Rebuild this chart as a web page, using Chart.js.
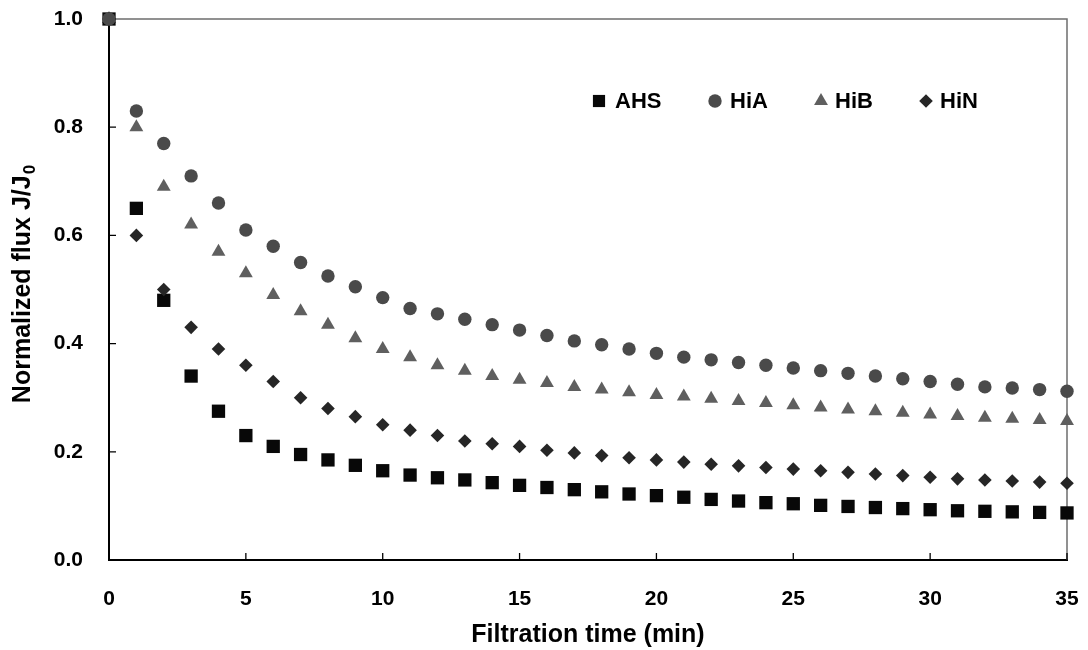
<!DOCTYPE html>
<html>
<head>
<meta charset="utf-8">
<script src="https://cdn.jsdelivr.net/npm/chart.js@4.4.0/dist/chart.umd.min.js"></script>
<style>
  html, body { margin: 0; padding: 0; background: #fff; }
  #wrap { width: 1088px; height: 650px; }
</style>
</head>
<body>
<div id="wrap"><canvas id="fluxChart" width="1088" height="650"></canvas></div>
<script>
        // Filtration time (min) and normalized flux values
        const minutes = [0, 1, 2, 3, 4, 5, 6, 7, 8, 9, 10, 11, 12, 13, 14, 15, 16, 17,
                         18, 19, 20, 21, 22, 23, 24, 25, 26, 27, 28, 29, 30, 31, 32, 33, 34, 35];
        const ahs = [1.0, 0.65, 0.48, 0.34, 0.275, 0.23, 0.21, 0.195, 0.185, 0.175, 0.165, 0.157,
                     0.152, 0.148, 0.143, 0.138, 0.134, 0.13, 0.126, 0.122, 0.119, 0.116, 0.112, 0.109,
                     0.106, 0.104, 0.101, 0.099, 0.097, 0.095, 0.093, 0.091, 0.09, 0.089, 0.088, 0.087];
        const hiA = [1.0, 0.83, 0.77, 0.71, 0.66, 0.61, 0.58, 0.55, 0.525, 0.505, 0.485, 0.465,
                     0.455, 0.445, 0.435, 0.425, 0.415, 0.405, 0.398, 0.39, 0.382, 0.375, 0.37, 0.365,
                     0.36, 0.355, 0.35, 0.345, 0.34, 0.335, 0.33, 0.325, 0.32, 0.318, 0.315, 0.312];
        const hiB = [1.0, 0.80, 0.69, 0.62, 0.57, 0.53, 0.49, 0.46, 0.435, 0.41, 0.39, 0.375,
                     0.36, 0.35, 0.34, 0.333, 0.327, 0.32, 0.315, 0.31, 0.305, 0.302, 0.298, 0.294,
                     0.29, 0.286, 0.282, 0.278, 0.275, 0.272, 0.269, 0.266, 0.263, 0.261, 0.259, 0.257];
        const hiN = [1.0, 0.60, 0.50, 0.43, 0.39, 0.36, 0.33, 0.30, 0.28, 0.265, 0.25, 0.24,
                     0.23, 0.22, 0.215, 0.21, 0.203, 0.198, 0.193, 0.189, 0.185, 0.181, 0.177, 0.174,
                     0.171, 0.168, 0.165, 0.162, 0.159, 0.156, 0.153, 0.15, 0.148, 0.146, 0.144, 0.142];
        const xTicks = [0, 5, 10, 15, 20, 25, 30, 35];
        const yTicks = [0.0, 0.2, 0.4, 0.6, 0.8, 1.0];

        const series = [
            { label: 'AHS', values: ahs, color: '#080808', style: 'rect', radius: 9.4, order: 2 },
            { label: 'HiA', values: hiA, color: '#4a4a4a', style: 'circle', radius: 6.7, order: 0 },
            { label: 'HiB', values: hiB, color: '#5f5f5f', style: 'triangle', radius: 8, order: 3 },
            { label: 'HiN', values: hiN, color: '#262626', style: 'rectRot', radius: 6.8, order: 1 }
        ];

        const toPoints = vals => minutes.map((m, i) => ({ x: m, y: vals[i] }));

        // draws a marker shape (used for the legend)
        function marker(ctx, style, x, y, r, color) {
            ctx.save();
            ctx.fillStyle = color;
            ctx.beginPath();
            if (style === 'rect') {
                const s = Math.SQRT1_2 * r;
                ctx.rect(x - s, y - s, 2 * s, 2 * s);
            } else if (style === 'circle') {
                ctx.arc(x, y, r, 0, Math.PI * 2);
            } else if (style === 'triangle') {
                ctx.moveTo(x, y - r);
                ctx.lineTo(x + r * Math.sin(Math.PI * 2 / 3), y - r * Math.cos(Math.PI * 2 / 3));
                ctx.lineTo(x + r * Math.sin(Math.PI * 4 / 3), y - r * Math.cos(Math.PI * 4 / 3));
            } else {
                ctx.moveTo(x, y - r); ctx.lineTo(x + r, y); ctx.lineTo(x, y + r); ctx.lineTo(x - r, y);
            }
            ctx.closePath();
            ctx.fill();
            ctx.restore();
        }

        const legendSpots = [
            { mx: 599, tx: 615 },
            { mx: 715, tx: 730 },
            { mx: 821, tx: 835 },
            { mx: 926, tx: 940 }
        ];

        const framePlugin = {
            id: 'frame',
            beforeDatasetsDraw(chart) {
                const { ctx, chartArea: a, scales: { x, y } } = chart;
                ctx.save();
                // top and right frame lines
                ctx.strokeStyle = '#6e6e6e';
                ctx.lineWidth = 1.5;
                ctx.beginPath();
                ctx.moveTo(a.left, a.top); ctx.lineTo(a.right, a.top); ctx.lineTo(a.right, a.bottom);
                ctx.stroke();
                // inside tick marks
                ctx.strokeStyle = '#000';
                ctx.lineWidth = 1.3;
                ctx.beginPath();
                xTicks.forEach(v => {
                    const px = x.getPixelForValue(v);
                    ctx.moveTo(px, a.bottom); ctx.lineTo(px, a.bottom - 7);
                });
                yTicks.forEach(v => {
                    const py = y.getPixelForValue(v);
                    ctx.moveTo(a.left, py); ctx.lineTo(a.left + 7, py);
                });
                ctx.stroke();
                ctx.restore();
            },
            afterDraw(chart) {
                const { ctx, chartArea: a } = chart;
                ctx.save();
                // legend
                ctx.font = 'bold 22px "Liberation Sans", Arial, sans-serif';
                ctx.textBaseline = 'middle';
                ctx.fillStyle = '#000';
                series.forEach((s, i) => {
                    const spot = legendSpots[i];
                    marker(ctx, s.style, spot.mx, 101, s.style === 'rect' ? 8.6 : s.radius, s.color);
                    ctx.fillText(s.label, spot.tx, 102);
                });
                // y axis title with subscript
                const main = 'Normalized flux J/J';
                ctx.font = 'bold 25px "Liberation Sans", Arial, sans-serif';
                const w1 = ctx.measureText(main).width;
                ctx.font = 'bold 17px "Liberation Sans", Arial, sans-serif';
                const w2 = ctx.measureText('0').width;
                ctx.translate(30, (a.top + a.bottom) / 2 - 5);
                ctx.rotate(-Math.PI / 2);
                ctx.textBaseline = 'alphabetic';
                ctx.font = 'bold 25px "Liberation Sans", Arial, sans-serif';
                const start = -(w1 + w2) / 2;
                ctx.fillText(main, start, 0);
                ctx.font = 'bold 17px "Liberation Sans", Arial, sans-serif';
                ctx.fillText('0', start + w1 + 1, 5);
                ctx.restore();
            }
        };

        const ctx = document.getElementById('fluxChart').getContext('2d');
        const fluxChart = new Chart(ctx, {
            type: 'scatter',
            data: {
                datasets: series.map(s => ({
                    label: s.label,
                    data: toPoints(s.values),
                    order: s.order,
                    pointStyle: s.style,
                    pointRadius: s.radius,
                    pointHoverRadius: s.radius,
                    pointBackgroundColor: s.color,
                    pointBorderWidth: 0,
                    pointBorderColor: s.color,
                    showLine: false,
                    clip: false
                }))
            },
            options: {
                responsive: false,
                animation: false,
                devicePixelRatio: 1,
                layout: { padding: { top: 19, right: 21, left: 0, bottom: 0 } },
                plugins: {
                    legend: { display: false },
                    tooltip: { enabled: false }
                },
                scales: {
                    x: {
                        type: 'linear',
                        min: 0,
                        max: 35,
                        afterFit: scale => {
                            scale.height = 90;
                            scale.paddingLeft = 0; scale.paddingRight = 0;
                        },
                        afterBuildTicks: scale => { scale.ticks = xTicks.map(v => ({ value: v })); },
                        grid: { drawOnChartArea: false, drawTicks: false },
                        border: { display: true, color: '#000', width: 2 },
                        ticks: {
                            padding: 27,
                            color: '#000',
                            font: { family: '"Liberation Sans", Arial, sans-serif', size: 21, weight: 'bold' }
                        },
                        title: {
                            display: true,
                            text: 'Filtration time (min)',
                            color: '#000',
                            padding: { top: 0, bottom: 0 },
                            font: { family: '"Liberation Sans", Arial, sans-serif', size: 25, weight: 'bold' }
                        }
                    },
                    y: {
                        type: 'linear',
                        min: 0,
                        max: 1.0,
                        afterFit: scale => {
                            scale.width = 109;
                            scale.paddingTop = 0; scale.paddingBottom = 0;
                        },
                        afterBuildTicks: scale => { scale.ticks = yTicks.map(v => ({ value: v })); },
                        grid: { drawOnChartArea: false, drawTicks: false },
                        border: { display: true, color: '#000', width: 2 },
                        ticks: {
                            padding: 26,
                            color: '#000',
                            callback: v => Number(v).toFixed(1),
                            font: { family: '"Liberation Sans", Arial, sans-serif', size: 21, weight: 'bold' }
                        }
                    }
                }
            },
            plugins: [framePlugin]
        });
</script>
</body>
</html>
